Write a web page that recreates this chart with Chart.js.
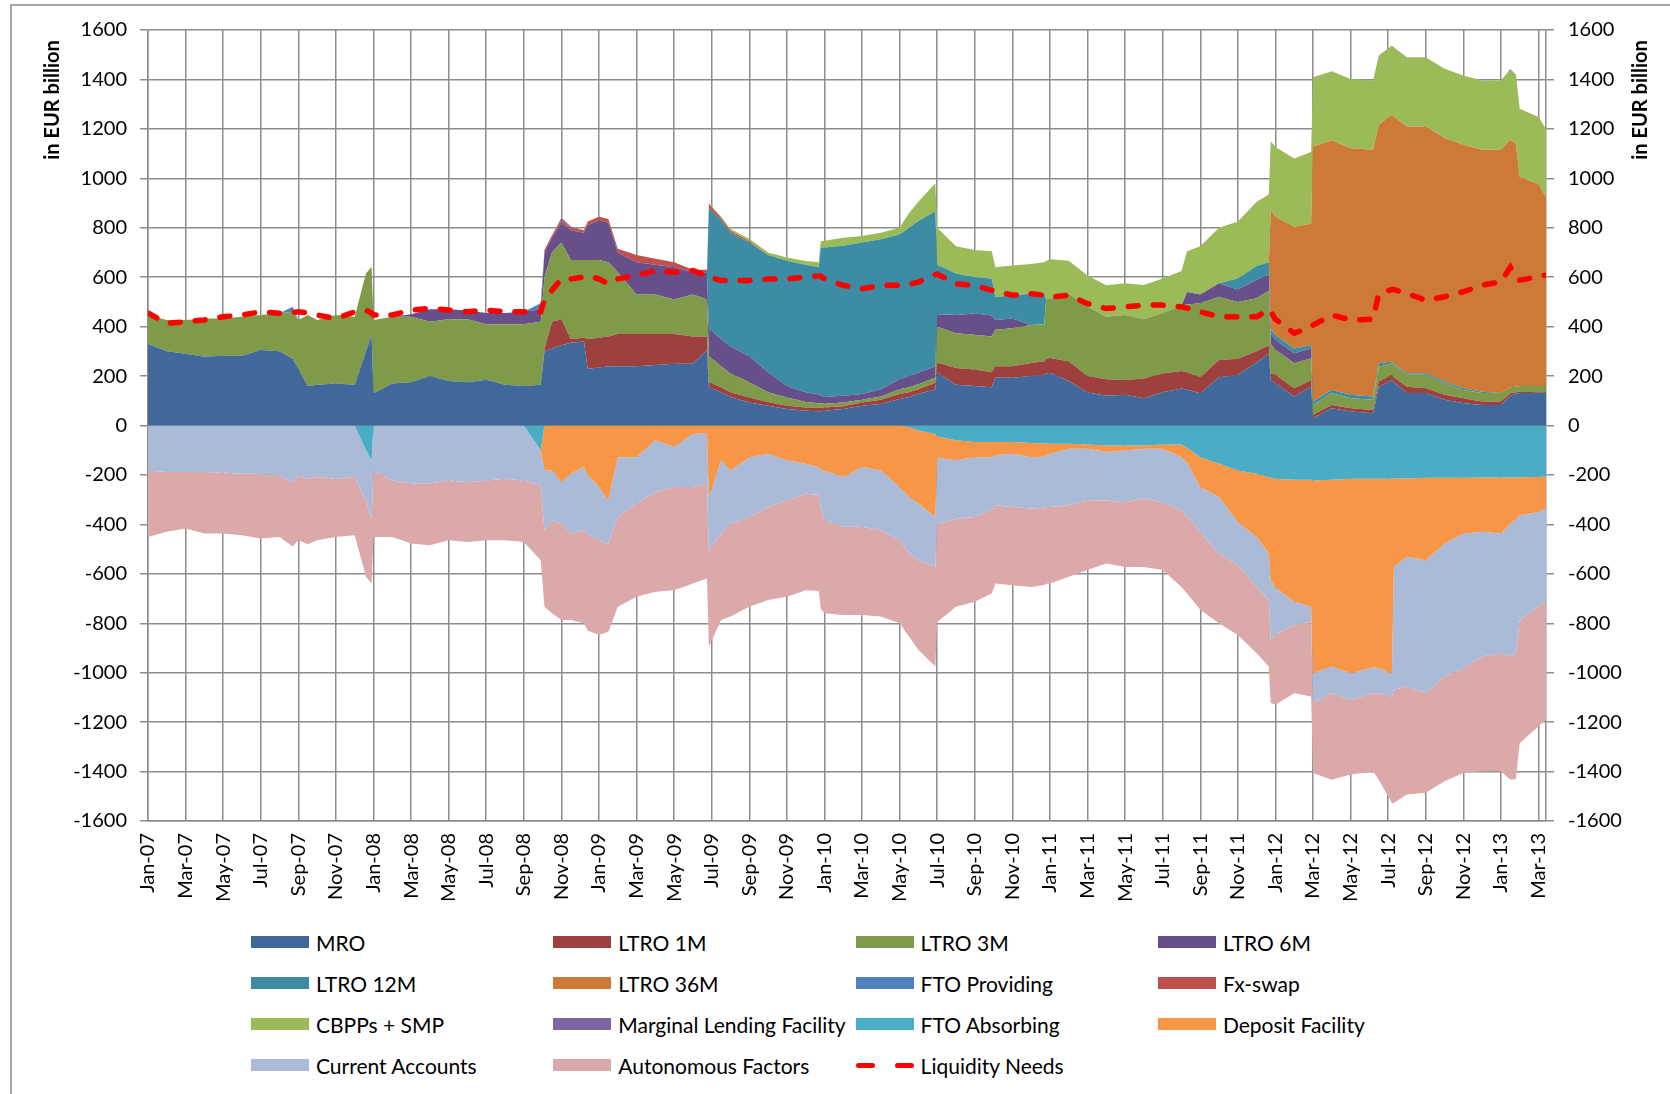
<!DOCTYPE html>
<html>
<head>
<meta charset="utf-8">
<script src="https://cdn.jsdelivr.net/npm/chart.js@4.4.1/dist/chart.umd.min.js"></script>
<style>
  html, body { margin: 0; padding: 0; background: #fff; overflow: hidden; }
  body { width: 1670px; height: 1094px; position: relative; font-family: Lato, sans-serif; }
  #frame { position: absolute; left: 10px; top: 4px; width: 1700px; height: 1200px; border: 2px solid #a6a6a6; }
  #liquidityChart { position: absolute; left: 0; top: 0; }
  .item { position: absolute; height: 24px; display: flex; align-items: center; font-size: 21px; color: #000; white-space: nowrap; }
  .swatch { width: 58px; height: 12px; margin-right: 7px; }
  .dashes { width: 58px; height: 5px; margin-right: 7px; display: flex; justify-content: space-between; }
  .dashes span { width: 19px; height: 5px; border-radius: 3px; background: #ff0000; }
</style>
</head>
<body>
<div id="frame"></div>
<canvas id="liquidityChart" width="1670" height="900"></canvas>
<div id="legend"></div>
<script>
// month index, 0 = Jan-07
const months = [0,1,2,3,4,5,6,7,7.7,8,8.5,9,10,11,11.6,11.9,12,13,14,15,16,17,18,19,20,20.9,
  21.1,21.5,22,22.5,23.2,23.4,24,24.5,25,26,27,28,29,29.75,
  29.85,30.5,31,32,33,34,35,35.7,35.8,36,37,38,39,40,40.5,41,41.9,
  42,43,44,44.9,45.1,46,47,47.7,47.8,48,49,50,51,52,53,54,55,55.3,56,57,58,59,59.65,
  59.75,60,61,61.9,62,63,64,65.2,65.5,66.2,66.3,67,68,69,70,71,72,72.5,72.8,73,74,74.4];

const tickLabels = ['Jan-07','Mar-07','May-07','Jul-07','Sep-07','Nov-07','Jan-08','Mar-08','May-08','Jul-08','Sep-08','Nov-08',
  'Jan-09','Mar-09','May-09','Jul-09','Sep-09','Nov-09','Jan-10','Mar-10','May-10','Jul-10','Sep-10','Nov-10',
  'Jan-11','Mar-11','May-11','Jul-11','Sep-11','Nov-11','Jan-12','Mar-12','May-12','Jul-12','Sep-12','Nov-12','Jan-13','Mar-13'];

// liquidity providing (positive)
const mro = [330,300,290,278,282,282,305,300,270,230,160,165,170,165,300,365,130,170,175,200,180,175,185,165,160,165,
  300,310,325,335,340,230,235,240,240,240,245,250,250,305,
  155,135,115,93,80,67,60,58,58,60,67,80,87,107,115,127,147,
  215,165,160,155,193,193,200,205,210,213,180,133,120,124,110,135,150,145,130,195,205,255,290,
  185,171,117,157,30,70,57,50,157,184,175,131,131,104,90,83,83,120,128,131,131,131];
const ltro1m = [0,0,0,0,0,0,0,0,0,0,0,0,0,0,0,0,0,0,0,0,0,0,0,0,0,0,
  10,110,105,15,15,120,120,120,130,130,125,120,110,55,
  20,20,20,20,15,13,13,14,14,13,11,13,17,20,20,20,26,
  40,68,67,60,47,47,53,55,60,60,80,67,67,60,80,75,70,70,65,70,65,45,35,
  25,34,34,27,13,13,13,13,21,21,20,26,20,20,20,14,14,10,7,6,4,4];
const ltro3m = [117,127,137,155,151,158,142,154,190,197,287,262,277,275,315,277,297,270,265,220,250,255,225,245,250,255,
  290,280,310,320,315,320,315,300,250,160,160,140,170,150,
  105,85,75,62,40,33,22,18,18,15,15,11,13,20,20,20,20,
  145,140,140,145,147,153,154,150,240,240,273,280,253,263,240,245,265,275,300,255,230,215,220,
  120,101,101,88,40,48,40,41,60,47,50,48,54,47,34,34,34,25,22,23,25,25];
const ltro6m = [0,0,0,0,0,0,0,0,0,0,0,0,0,0,0,0,0,0,10,50,40,35,45,45,50,50,
  100,60,80,120,110,140,160,160,80,130,120,130,90,110,
  110,110,110,105,80,47,40,35,30,27,27,23,30,40,45,46,47,
  50,74,86,85,40,40,0,0,0,0,0,0,0,0,0,0,0,50,35,55,50,75,65,
  42,40,40,40,0,0,0,0,0,0,0,0,0,0,0,0,0,0,0,0,0,0];
const ltro12m = [0,0,0,0,0,0,0,0,0,0,0,0,0,0,0,0,0,0,0,0,0,0,0,0,0,0,
  0,0,0,0,0,0,0,0,0,0,0,0,0,0,
  490,480,460,460,475,507,515,515,600,605,607,613,606,586,600,614,627,
  200,168,147,150,93,94,126,125,0,0,0,0,0,0,0,0,0,0,0,0,45,55,50,
  16,20,20,14,14,13,14,13,14,6,5,6,6,7,7,6,0,0,0,0,0,0];
const ltro36m = [0,0,0,0,0,0,0,0,0,0,0,0,0,0,0,0,0,0,0,0,0,0,0,0,0,0,
  0,0,0,0,0,0,0,0,0,0,0,0,0,0,
  0,0,0,0,0,0,0,0,0,0,0,0,0,0,0,0,0,
  0,0,0,0,0,0,0,0,0,0,0,0,0,0,0,0,0,0,0,0,0,0,0,
  484,478,492,490,1032,1009,998,999,965,999,1000,999,999,985,985,979,985,1001,983,846,815,765];
const ftoProviding = [0,0,0,0,0,0,0,0,20,0,0,0,0,0,0,0,0,0,0,0,0,0,0,0,0,25,
  0,0,0,0,0,0,0,0,0,0,0,0,0,0,
  0,0,0,0,0,0,0,0,0,0,0,0,0,0,0,0,0,
  0,0,0,0,0,0,0,0,0,0,0,0,0,0,0,0,0,0,0,0,0,0,0,
  0,0,0,0,0,0,0,0,0,0,0,0,0,0,0,0,0,0,0,0,0,0];
const fxSwap = [0,0,0,0,0,0,0,0,0,0,0,0,0,0,0,0,0,0,0,0,0,0,0,0,0,0,
  10,10,10,10,10,15,15,15,15,30,25,20,10,10,
  15,10,8,5,0,0,0,0,0,0,0,0,0,0,0,0,0,
  0,0,0,0,0,0,0,0,0,0,0,0,0,0,0,0,0,0,0,0,0,0,0,
  0,0,0,0,0,0,0,0,0,0,0,0,0,0,0,0,0,0,0,0,0,0];
const cbppSmp = [0,0,0,0,0,0,0,0,0,0,0,0,0,0,0,0,0,0,0,0,0,0,0,0,0,0,
  0,0,0,0,0,0,0,0,0,0,0,0,0,0,
  5,5,7,10,10,13,15,20,25,27,33,27,27,27,60,78,113,
  150,110,110,110,120,120,120,125,155,160,134,127,127,128,138,140,140,165,195,225,230,260,275,
  278,283,276,290,280,280,280,280,280,280,280,280,280,280,280,280,280,280,280,275,273,275];
const marginalLending = [0,0,0,0,0,0,0,0,0,0,0,0,0,0,0,0,0,0,0,0,0,0,0,0,0,0,
  0,0,10,5,0,0,0,0,0,0,0,0,0,0,
  0,0,0,0,0,0,0,0,0,0,0,0,0,0,0,0,0,
  0,0,0,0,0,0,0,0,0,0,0,0,0,0,0,0,0,0,0,0,0,0,0,
  0,0,0,0,0,0,0,0,0,0,0,0,0,0,0,0,0,5,0,0,0,0];

// liquidity absorbing (negative)
const ftoAbsorbing = [0,0,0,0,0,0,0,0,0,0,0,0,0,0,-100,-141,0,0,0,0,0,0,0,0,0,-100,
  0,0,0,0,0,0,0,0,0,0,0,0,0,0,
  0,0,0,0,0,0,0,0,0,0,0,0,0,0,-7,-20,-34,
  -45,-60,-67,-67,-67,-67,-71,-73,-73,-74,-74,-77,-81,-81,-81,-77,-77,-90,-128,-155,-182,-195,-209,
  -211,-215,-219,-219,-222,-219,-215,-215,-215,-215,-214,-214,-211,-211,-211,-210,-210,-210,-210,-209,-208,-206];
const depositFacility = [0,0,0,0,0,0,0,0,0,0,0,0,0,0,0,0,0,0,0,0,0,0,0,0,0,0,
  -180,-182,-230,-195,-168,-200,-249,-303,-128,-128,-60,-87,-34,-30,
  -289,-141,-182,-128,-114,-141,-155,-168,-180,-182,-208,-168,-182,-249,-282,-296,-336,
  -85,-81,-61,-61,-53,-47,-57,-52,-47,-40,-20,-17,-26,-20,-13,-17,-51,-60,-121,-134,-208,-256,-309,
  -414,-440,-494,-514,-780,-756,-787,-763,-767,-787,-358,-317,-334,-267,-226,-220,-227,-187,-170,-154,-142,-130];
const currentAccounts = [-182,-188,-188,-188,-190,-195,-195,-202,-230,-202,-215,-208,-215,-208,-203,-239,-182,-222,-235,-235,-222,-229,-222,-215,-222,-142,
  -244,-201,-167,-242,-256,-240,-215,-175,-242,-188,-209,-162,-215,-205,
  -215,-296,-215,-242,-216,-162,-121,-112,-150,-201,-202,-242,-242,-215,-229,-229,-201,
  -270,-236,-242,-212,-203,-216,-208,-208,-210,-216,-229,-209,-196,-209,-202,-216,-215,-220,-181,-229,-175,-201,-188,
  -243,-190,-94,-60,-121,-108,-108,-105,-101,-94,-497,-525,-538,-537,-545,-505,-484,-538,-540,-424,-383,-370];
const autonomousFactors = [-269,-242,-229,-249,-247,-249,-262,-249,-260,-262,-265,-256,-236,-236,-309,-259,-269,-229,-242,-249,-242,-242,-242,-249,-249,-303,
  -309,-377,-390,-350,-376,-390,-383,-356,-363,-377,-404,-417,-390,-384,
  -390,-350,-376,-363,-376,-390,-390,-390,-410,-377,-357,-357,-349,-336,-336,-363,-404,
  -395,-356,-343,-340,-316,-316,-317,-312,-310,-309,-289,-282,-255,-262,-276,-275,-310,-310,-315,-282,-283,-269,-269,
  -255,-285,-276,-303,-283,-350,-302,-317,-350,-431,-458,-437,-403,-424,-424,-464,-478,-498,-510,-498,-484,-484];

const liquidityNeeds = [455,413,420,427,440,447,460,454,458,460,455,447,433,460,467,455,447,447,467,474,467,460,467,460,460,460,
  510,547,593,593,600,605,593,573,593,607,627,620,627,605,
  600,587,587,587,593,593,600,605,605,593,567,553,567,567,571,580,610,
  613,573,567,547,545,527,533,527,525,520,527,493,473,480,487,487,480,475,460,440,440,440,470,
  460,430,373,400,406,447,427,430,534,550,550,534,507,521,541,568,581,640,600,588,602,608];

const seriesNames = ['MRO','LTRO 1M','LTRO 3M','LTRO 6M','LTRO 12M','LTRO 36M','FTO Providing','Fx-swap',
  'CBPPs + SMP','Marginal Lending Facility','FTO Absorbing','Deposit Facility','Current Accounts','Autonomous Factors'];
const seriesValues = [mro, ltro1m, ltro3m, ltro6m, ltro12m, ltro36m, ftoProviding, fxSwap,
  cbppSmp, marginalLending, ftoAbsorbing, depositFacility, currentAccounts, autonomousFactors];
const seriesColors = ['#41689a','#9e413e','#7f9a48','#67508a','#3c8da3','#cd7a38','#4f81bd','#c0504d',
  '#9bbb59','#8064a2','#4bacc6','#f79646','#aabad7','#dba9a9'];

Chart.defaults.font.family = 'Lato, "DejaVu Sans", sans-serif';
Chart.defaults.color = '#000';

const datasets = seriesNames.map((name, i) => ({
  label: name,
  data: months.map((m, j) => ({ x: m, y: seriesValues[i][j] })),
  stack: i < 10 ? 'providing' : 'absorbing',
  backgroundColor: seriesColors[i],
  borderColor: 'rgba(0,0,0,0)',
  borderWidth: 0,
  pointRadius: 0,
  tension: 0,
  fill: (i === 0 || i === 10) ? 'origin' : '-1'
}));

// drawn last, on top of the areas
datasets.push({
  label: 'Liquidity Needs',
  data: months.map((m, j) => ({ x: m, y: liquidityNeeds[j] })),
  stack: 'needs',
  order: -1,
  borderColor: '#ff0000',
  borderWidth: 5.5,
  borderDash: [10, 15],
  borderCapStyle: 'round',
  pointRadius: 0,
  tension: 0,
  fill: false
});

const gridGrey = '#8c8c8c';

const axisTitles = {
  id: 'axisTitles',
  afterDraw(chart) {
    const ctx = chart.ctx;
    ctx.save();
    ctx.font = 'bold 20px Lato';
    ctx.fillStyle = '#000';
    ctx.textAlign = 'center';
    ctx.textBaseline = 'middle';
    [53, 1641].forEach(x => {
      ctx.save();
      ctx.translate(x, 100);
      ctx.rotate(-Math.PI / 2);
      ctx.fillText('in EUR billion', 0, 0);
      ctx.restore();
    });
    ctx.restore();
  }
};

const yTicks = {
  stepSize: 200,
  color: '#000',
  font: { size: 20 },
  callback: v => String(v)
};

new Chart(document.getElementById('liquidityChart'), {
  type: 'line',
  data: { datasets: datasets },
  options: {
    responsive: false,
    animation: false,
    events: [],
    layout: { padding: { top: 30, left: 0, right: 0, bottom: 0 } },
    plugins: {
      legend: { display: false },
      tooltip: { enabled: false }
    },
    scales: {
      x: {
        type: 'linear',
        min: 0,
        max: 74.4,
        afterFit: s => { s.height = 79; },
        ticks: {
          stepSize: 2,
          includeBounds: false,
          autoSkip: false,
          minRotation: 90,
          maxRotation: 90,
          padding: 12,
          color: '#000',
          font: { size: 20 },
          callback: v => tickLabels[Math.round(v / 2)]
        },
        grid: { color: gridGrey, lineWidth: 1.5, drawTicks: false },
        border: { color: gridGrey, width: 1.5 }
      },
      y: {
        stacked: true,
        min: -1600,
        max: 1600,
        afterFit: s => { s.width = 148; },
        ticks: Object.assign({ padding: 13 }, yTicks),
        grid: { color: gridGrey, lineWidth: 1.5, tickLength: 8 },
        border: { color: gridGrey, width: 1.5 }
      },
      y2: {
        position: 'right',
        min: -1600,
        max: 1600,
        afterFit: s => { s.width = 124; },
        ticks: Object.assign({ padding: 14 }, yTicks),
        grid: { drawOnChartArea: false, color: gridGrey, lineWidth: 1.5, tickLength: 8 },
        border: { color: gridGrey, width: 1.5 }
      }
    }
  },
  plugins: [axisTitles]
});

// legend, 4 columns
const legend = document.getElementById('legend');
const legendNames = seriesNames.concat(['Liquidity Needs']);
legendNames.forEach((name, i) => {
  const col = i % 4, row = Math.floor(i / 4);
  const item = document.createElement('div');
  item.className = 'item';
  item.style.left = (251 + col * 302.3) + 'px';
  item.style.top = (942 + row * 41 - 12) + 'px';
  if (i < seriesColors.length) {
    const sw = document.createElement('div');
    sw.className = 'swatch';
    sw.style.background = seriesColors[i];
    item.appendChild(sw);
  } else {
    const d = document.createElement('div');
    d.className = 'dashes';
    d.innerHTML = '<span></span><span></span>';
    item.appendChild(d);
  }
  const t = document.createElement('span');
  t.textContent = name;
  item.appendChild(t);
  legend.appendChild(item);
});
</script>
</body>
</html>
